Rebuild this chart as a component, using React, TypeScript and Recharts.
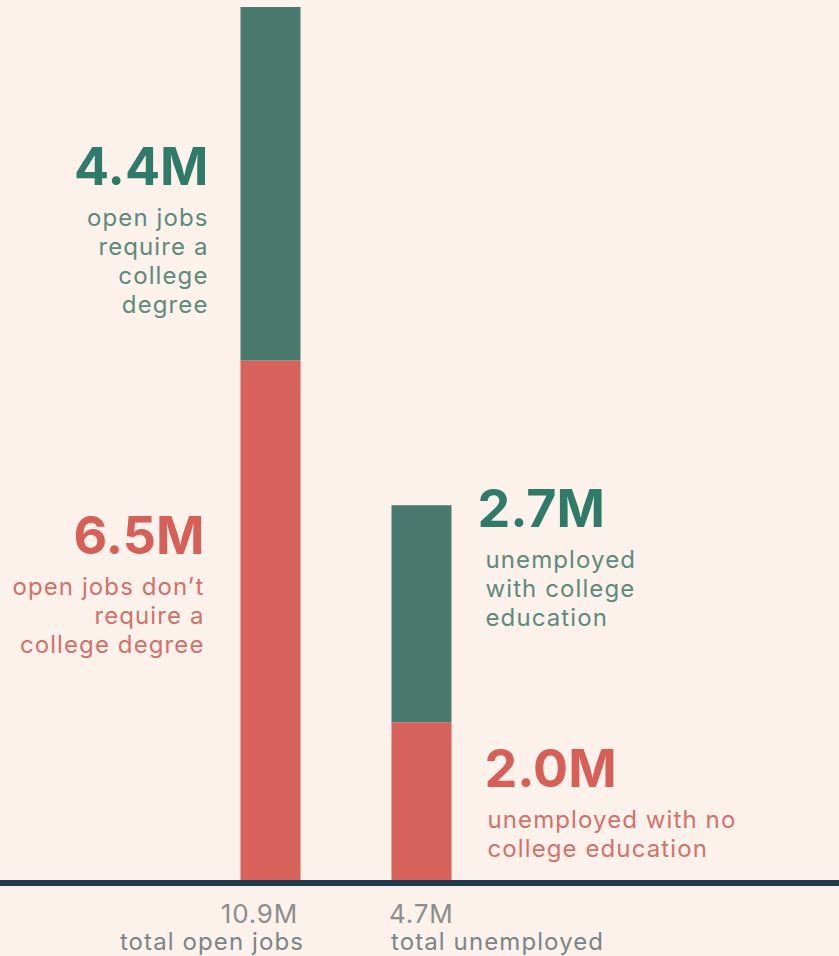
import { BarChart, Bar, XAxis, YAxis, LabelList } from 'recharts';

const CATEGORIES = ['total open jobs', 'total unemployed'];
const TOTALS = ['10.9M', '4.7M'];
const NO_DEGREE = [6.5, 2.0];
const DEGREE = [4.4, 2.7];
const NO_DEGREE_VALUE_LABELS = ['6.5M', '2.0M'];
const DEGREE_VALUE_LABELS = ['4.4M', '2.7M'];
const NO_DEGREE_NOTES = [
  ['open jobs don\u2019t', 'require a', 'college degree'],
  ['unemployed with no', 'college education'],
];
const DEGREE_NOTES = [
  ['open jobs', 'require a', 'college', 'degree'],
  ['unemployed', 'with college', 'education'],
];

const BG = '#fcf1eb';
const GREEN = '#4a7a6d';
const RED = '#d6625b';
const GREEN_TEXT = '#2f7a68';
const GREEN_NOTE = '#5e8a7b';
const RED_TEXT = '#d65f57';
const RED_NOTE = '#d2716a';
const AXIS = '#1f3b4b';
const FONT = 'Inter, "Noto Sans", sans-serif';

const data = CATEGORIES.map((name, i) => ({
  name,
  total: TOTALS[i],
  noDegree: NO_DEGREE[i],
  degree: DEGREE[i],
}));

// baseline of the big number for each annotation
const LABEL_Y = {
  degree: [185, 527],
  noDegree: [554, 787],
};
// horizontal gap from the bar edge: [big number, note lines] per bar
const LABEL_GAP = {
  degree: [[32, 32], [26, 34]],
  noDegree: [[36, 36], [33, 36]],
};

function makeNote(
  series: 'degree' | 'noDegree',
  big: string[],
  notes: string[][],
  color: string,
  noteColor: string
) {
  return (props: any) => {
    const { x, width, index } = props;
    const left = index === 0;
    const [bigGap, noteGap] = LABEL_GAP[series][index];
    const edge = left ? Number(x) : Number(x) + Number(width);
    const bx = left ? edge - bigGap : edge + bigGap;
    const nx = left ? edge - noteGap : edge + noteGap;
    const y0 = LABEL_Y[series][index];
    const anchor = left ? 'end' : 'start';
    return (
      <g>
        <text
          x={bx}
          y={y0}
          textAnchor={anchor}
          fill={color}
          fontFamily={FONT}
          fontWeight={700}
          fontSize={52}
        >
          {big[index]}
        </text>
        {notes[index].map((line, j) => (
          <text
            key={j}
            x={nx}
            y={y0 + 41 + j * 29}
            textAnchor={anchor}
            fill={noteColor}
            fontFamily={FONT}
            fontSize={24}
            letterSpacing={1.1}
          >
            {line}
          </text>
        ))}
      </g>
    );
  };
}

const TotalTick = (props: any) => {
  const { x, y, payload } = props;
  const i = payload.index;
  const left = i === 0;
  const tx = left ? x + 28 : x - 32;
  const anchor = left ? 'end' : 'start';
  return (
    <g>
      <text
        x={tx}
        y={y + 40}
        textAnchor={anchor}
        fill="#8d8d8d"
        fontFamily={FONT}
        fontSize={26}
        letterSpacing={0.8}
      >
        {TOTALS[i]}
      </text>
      <text
        x={left ? tx + 6 : tx + 2}
        y={y + 67}
        textAnchor={anchor}
        fill="#7b8488"
        fontFamily={FONT}
        fontSize={24}
        letterSpacing={1.1}
      >
        {payload.value}
      </text>
    </g>
  );
};

export default function App() {
  return (
    <div style={{ position: 'absolute', left: 0, top: 0, width: 839, height: 956, background: BG }}>
      <BarChart
        width={839}
        height={956}
        data={data}
        margin={{ top: 7, right: 0, bottom: 0, left: 0 }}
        barSize={60}
      >
        <YAxis hide domain={[0, 10.9]} />
        <XAxis
          dataKey="name"
          height={73}
          padding={{ left: 194.5, right: 342.5 }}
          tickLine={false}
          tickSize={0}
          tickMargin={0}
          axisLine={{ stroke: AXIS, strokeWidth: 6 }}
          tick={<TotalTick />}
          interval={0}
        />
        <Bar dataKey="noDegree" stackId="a" fill={RED} isAnimationActive={false}>
          <LabelList
            dataKey="noDegree"
            content={makeNote('noDegree', NO_DEGREE_VALUE_LABELS, NO_DEGREE_NOTES, RED_TEXT, RED_NOTE)}
          />
        </Bar>
        <Bar dataKey="degree" stackId="a" fill={GREEN} isAnimationActive={false}>
          <LabelList
            dataKey="degree"
            content={makeNote('degree', DEGREE_VALUE_LABELS, DEGREE_NOTES, GREEN_TEXT, GREEN_NOTE)}
          />
        </Bar>
      </BarChart>
    </div>
  );
}
